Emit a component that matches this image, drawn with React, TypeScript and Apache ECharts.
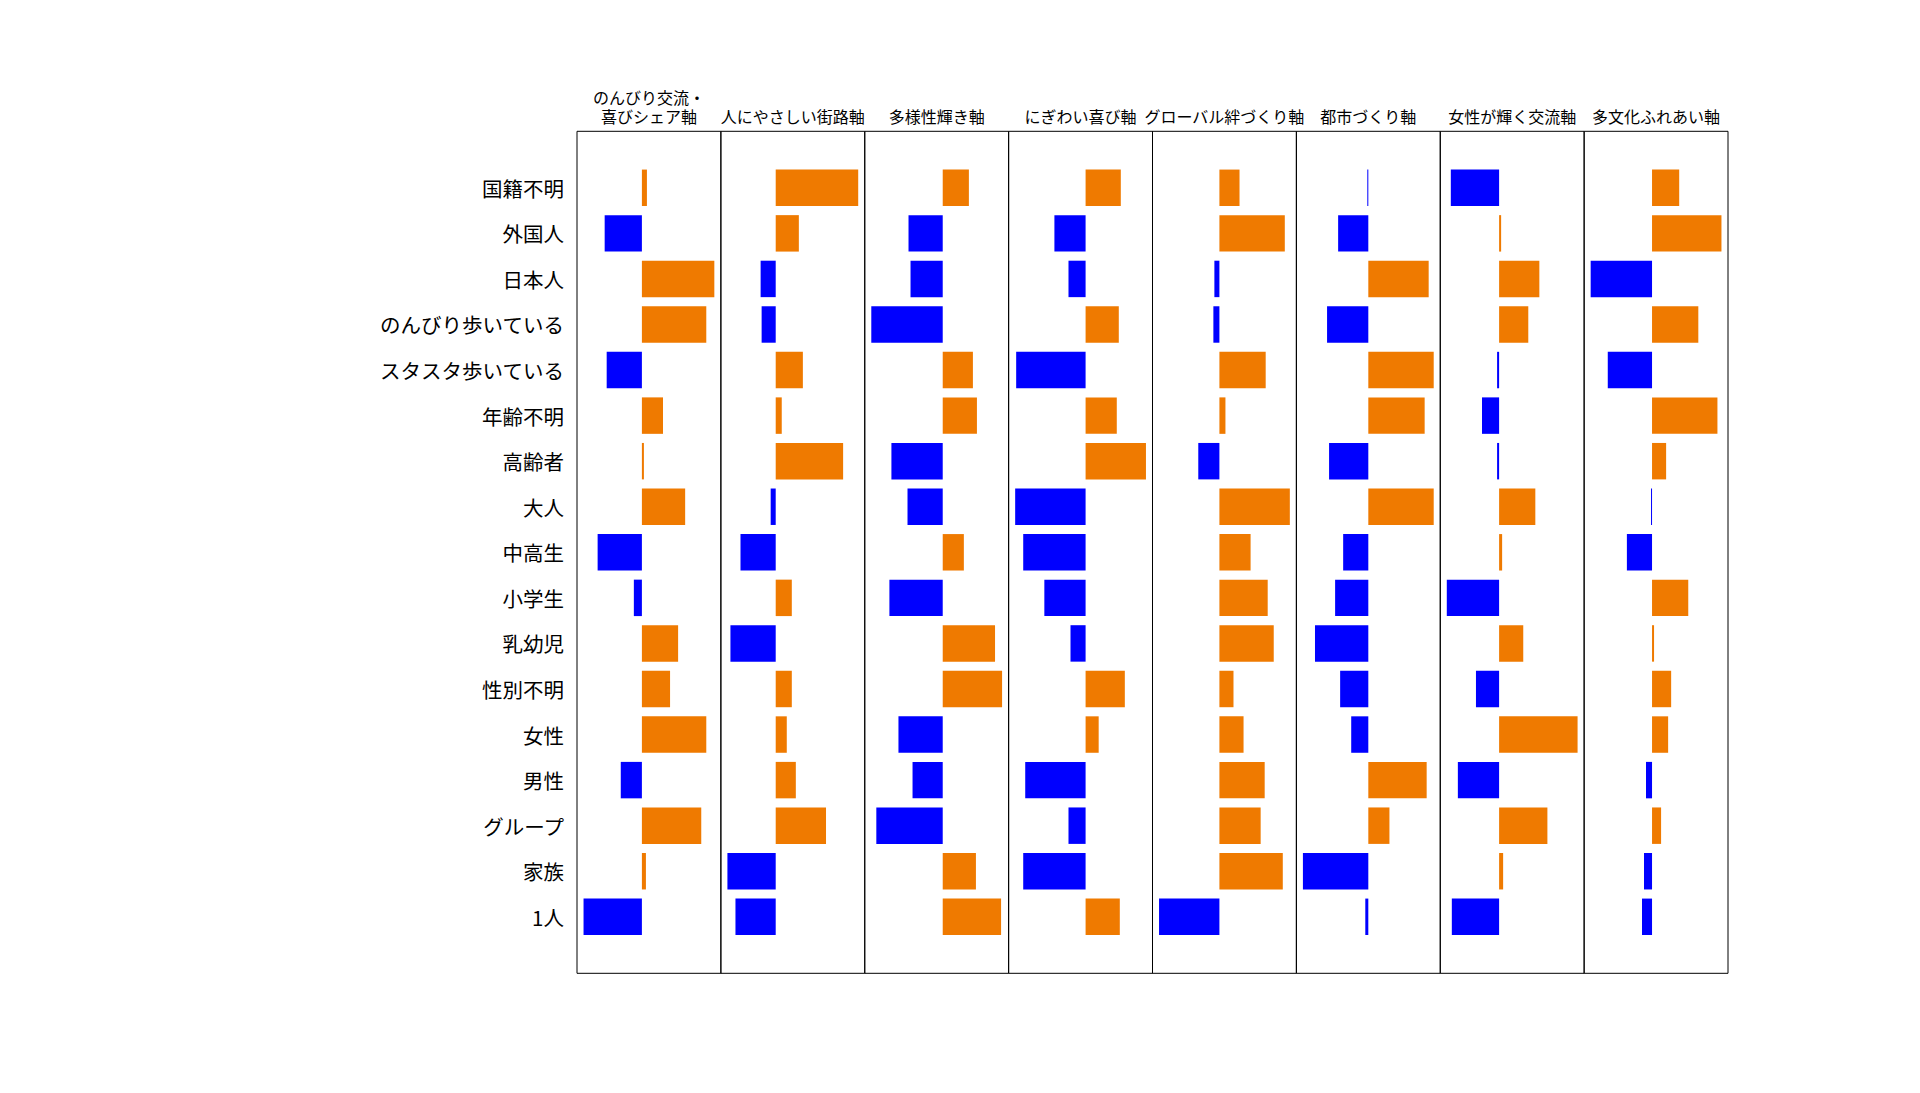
import React, { useEffect, useRef } from "react";
import * as echarts from "echarts";

// Row categories (top to bottom)
const categories = [
  "国籍不明",
  "外国人",
  "日本人",
  "のんびり歩いている",
  "スタスタ歩いている",
  "年齢不明",
  "高齢者",
  "大人",
  "中高生",
  "小学生",
  "乳幼児",
  "性別不明",
  "女性",
  "男性",
  "グループ",
  "家族",
  "1人",
];

// Panel titles (left to right)
const panelTitles = [
  "のんびり交流・\n喜びシェア軸",
  "人にやさしい街路軸",
  "多様性輝き軸",
  "にぎわい喜び軸",
  "グローバル絆づくり軸",
  "都市づくり軸",
  "女性が輝く交流軸",
  "多文化ふれあい軸",
];

// Scores per panel, in category order
const nonbiriKoryu = [5, -37, 72, 64, -35, 21, 2, 43, -44, -8, 36, 28, 64, -21, 59, 4, -58];
const hitoniYasashii = [82, 23, -15, -14, 27, 6, 67, -5, -35, 16, -45, 16, 11, 20, 50, -48, -40];
const tayoseiKagayaki = [26, -34, -32, -71, 30, 34, -51, -35, 21, -53, 52, 59, -44, -30, -66, 33, 58];
const nigiwaiYorokobi = [35, -31, -17, 33, -69, 31, 60, -70, -62, -41, -15, 39, 13, -60, -17, -62, 34];
const globalKizuna = [20, 65, -5, -6, 46, 6, -21, 70, 31, 48, 54, 14, 24, 45, 41, 63, -60];
const toshiZukuri = [-1, -30, 60, -41, 65, 56, -39, 65, -25, -33, -53, -28, -17, 58, 21, -65, -3];
const joseiKagayaku = [-48, 2, 40, 29, -2, -17, -2, 36, 3, -52, 24, -23, 78, -41, 48, 4, -47];
const tabunkaFureai = [27, 69, -61, 46, -44, 65, 14, -1, -25, 36, 2, 19, 16, -6, 9, -8, -10];

const panelValues = [
  nonbiriKoryu,
  hitoniYasashii,
  tayoseiKagayaki,
  nigiwaiYorokobi,
  globalKizuna,
  toshiZukuri,
  joseiKagayaku,
  tabunkaFureai,
];

const COLOR_POS = "#ef7a00";
const COLOR_NEG = "#0000ff";
const FONT = '"Noto Sans CJK JP", "Noto Sans", sans-serif';

export default function App() {
  const ref = useRef<HTMLDivElement>(null);

  useEffect(() => {
    document.body.style.margin = "0";
    const chart = echarts.init(ref.current!, null, { renderer: "svg" });

    const L = 577;
    const R = 1728;
    const T = 131.3;
    const B = 973.3;
    const n = panelValues.length;
    const pw = (R - L) / n;
    const unit = (B - T) / 18.48;
    const gridTop = T + 0.74 * unit;
    const gridH = 17 * unit;

    const grids: any[] = [];
    const xAxes: any[] = [];
    const yAxes: any[] = [];
    const series: any[] = [];
    const graphics: any[] = [];

    panelValues.forEach((vals, i) => {
      grids.push({
        left: L + i * pw,
        top: gridTop,
        width: pw,
        height: gridH,
        containLabel: false,
      });
      xAxes.push({
        type: "value",
        gridIndex: i,
        min: (e: any) => e.min - 0.05 * (e.max - e.min),
        max: (e: any) => e.max + 0.05 * (e.max - e.min),
        axisLine: { show: false },
        axisTick: { show: false },
        axisLabel: { show: false },
        splitLine: { show: false },
      });
      yAxes.push({
        type: "category",
        gridIndex: i,
        data: categories,
        inverse: true,
        axisLine: { show: false },
        axisTick: { show: false },
        splitLine: { show: false },
        axisLabel: {
          show: i === 0,
          margin: 13,
          fontSize: 20.5,
          color: "#000",
          fontFamily: FONT,
        },
      });
      series.push({
        type: "bar",
        xAxisIndex: i,
        yAxisIndex: i,
        barCategoryGap: "20%",
        data: vals.map((v) => ({
          value: v,
          itemStyle: { color: v < 0 ? COLOR_NEG : COLOR_POS },
        })),
      });
      graphics.push({
        type: "rect",
        shape: { x: L + i * pw, y: T, width: pw, height: B - T },
        style: { fill: "none", stroke: "#000", lineWidth: 1 },
        silent: true,
        z: 10,
      });
      graphics.push({
        type: "text",
        x: L + (i + 0.5) * pw,
        y: 126,
        style: {
          text: panelTitles[i],
          align: "center",
          verticalAlign: "bottom",
          fontSize: 16,
          lineHeight: 19.6,
          fontFamily: FONT,
          fill: "#000",
        },
      });
    });

    chart.setOption({
      animation: false,
      backgroundColor: "#fff",
      grid: grids,
      xAxis: xAxes,
      yAxis: yAxes,
      series,
      graphic: graphics,
    });

    return () => chart.dispose();
  }, []);

  return <div ref={ref} style={{ width: 1920, height: 1093 }} />;
}
